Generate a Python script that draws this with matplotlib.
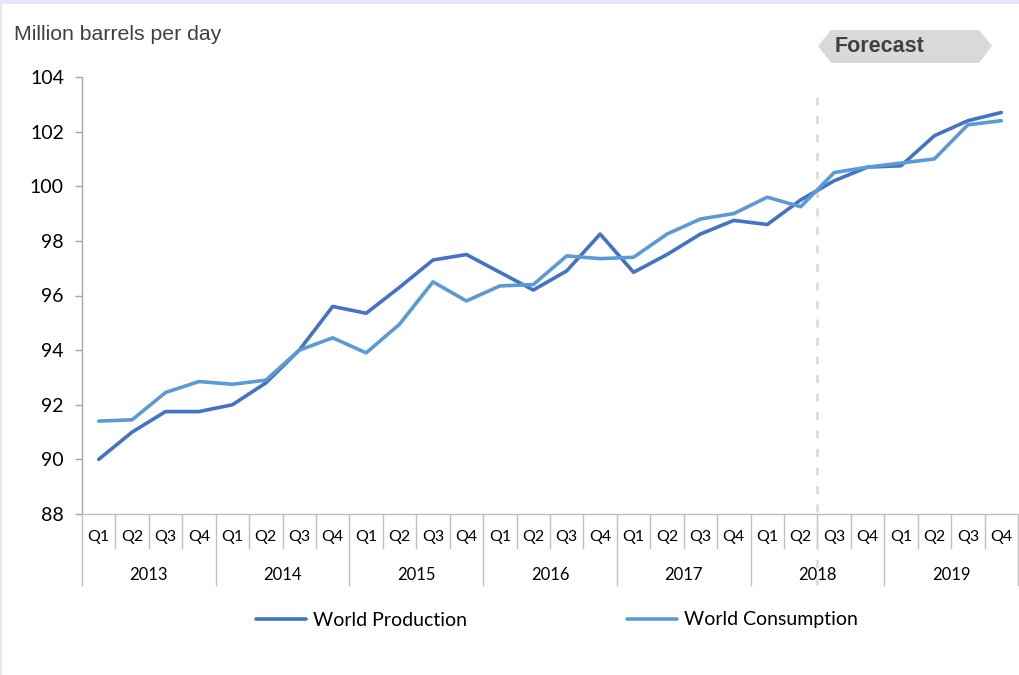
import matplotlib
matplotlib.use("Agg")
import matplotlib.pyplot as plt
from matplotlib.patches import Polygon, Rectangle
from matplotlib.transforms import blended_transform_factory

# Quarterly world oil balance, million barrels per day
years = ["2013", "2014", "2015", "2016", "2017", "2018", "2019"]
quarters = ["Q1", "Q2", "Q3", "Q4"]

production = [90.0, 91.0, 91.75, 91.75,
              92.0, 92.8, 94.0, 95.6,
              95.35, 96.3, 97.3, 97.5,
              96.85, 96.2, 96.9, 98.25,
              96.85, 97.5, 98.25, 98.75,
              98.6, 99.5, 100.2, 100.7,
              100.75, 101.85, 102.4, 102.7]

consumption = [91.4, 91.45, 92.45, 92.85,
               92.75, 92.9, 94.0, 94.45,
               93.9, 94.95, 96.5, 95.8,
               96.35, 96.4, 97.45, 97.35,
               97.4, 98.25, 98.8, 99.0,
               99.6, 99.25, 100.5, 100.7,
               100.85, 101.0, 102.25, 102.4]

y_ticks = [88, 90, 92, 94, 96, 98, 100, 102, 104]
forecast_start = 22  # index of first forecast quarter (2018 Q3)

W, H = 1020, 675
fig = plt.figure(figsize=(W / 100, H / 100), dpi=100)
fig.patch.set_facecolor("white")

# thin frame strips along the top and left edges
fig.patches.append(Rectangle((0, 1 - 4 / H), 1, 4 / H, transform=fig.transFigure,
                             facecolor="#E6E6F7", edgecolor="none", zorder=0))
fig.patches.append(Rectangle((0, 0), 2 / W, 1, transform=fig.transFigure,
                             facecolor="#E6E6F7", edgecolor="none", zorder=0))

left, right, top, bottom = 82, 1018, 77, 514
ax = fig.add_axes([left / W, 1 - bottom / H, (right - left) / W, (bottom - top) / H])

n = len(production)
x = list(range(n))
ax.plot(x, production, color="#4472C4", lw=2.6, solid_capstyle="round",
        solid_joinstyle="round", label="World Production", zorder=3)
ax.plot(x, consumption, color="#5B9BD5", lw=2.6, solid_capstyle="round",
        solid_joinstyle="round", label="World Consumption", zorder=3)

ax.set_xlim(-0.5, n - 0.5)
ax.set_ylim(88, 104)
ax.set_yticks(y_ticks)
ax.set_yticklabels([str(v) for v in y_ticks], fontsize=14, family="Lato", color="black")
ax.tick_params(axis="y", direction="out", length=5, width=1, color="#A6A6A6", pad=8)
ax.set_xticks([])

axis_grey = "#BFBFBF"
for side in ["top", "right"]:
    ax.spines[side].set_visible(False)
ax.spines["left"].set_color("#A6A6A6")
ax.spines["bottom"].set_color(axis_grey)
ax.spines["left"].set_linewidth(1)
ax.spines["bottom"].set_linewidth(1)

# two-level category axis
trans = blended_transform_factory(ax.transData, ax.transAxes)
q_label_y = (bottom - 537) / (bottom - top)
yr_label_y = (bottom - 575) / (bottom - top)
q_sep_bottom = (bottom - 548) / (bottom - top)
yr_sep_bottom = (bottom - 585) / (bottom - top)

for i in range(n):
    ax.text(i, q_label_y, quarters[i % 4], transform=trans, ha="center", va="center",
            fontsize=11.5, family="Lato", color="black")
for b in range(n + 1):
    xb = b - 0.5
    low = yr_sep_bottom if b % 4 == 0 else q_sep_bottom
    ax.plot([xb, xb], [0, low], transform=trans, color=axis_grey, lw=1, clip_on=False)
for k, yr in enumerate(years):
    ax.text(4 * k + 1.5, yr_label_y, yr, transform=trans, ha="center", va="center",
            fontsize=12, family="Lato", color="black")

# forecast divider
xf = forecast_start - 0.5
ax.plot([xf, xf], [(bottom - 97) / (bottom - top), yr_sep_bottom], transform=trans,
        color="#D9D9D9", lw=1.8, dashes=(3.2, 4.2), clip_on=False, zorder=2)

# forecast tag
px = lambda xx, yy: (xx / W, 1 - yy / H)
tag = Polygon([px(818, 46), px(831, 30), px(979, 30), px(992, 46), px(979, 63), px(831, 63)],
              closed=True, transform=fig.transFigure, facecolor="#D9D9D9", edgecolor="none")
fig.patches.append(tag)
fig.text(835 / W, 1 - 47 / H, "Forecast", ha="left", va="center", fontsize=15.5,
         fontweight="bold", family="Liberation Sans", color="#404040")

# unit label
fig.text(14 / W, 1 - 35 / H, "Million barrels per day", ha="left", va="center",
         fontsize=15.3, family="Liberation Sans", color="#404040")

# legend
leg = fig.legend(loc="center", bbox_to_anchor=(557 / W, 1 - 620 / H), ncol=2, frameon=False,
                 prop={"family": "Lato", "size": 14}, handlelength=2.6, handletextpad=0.36,
                 columnspacing=8.2)

fig.savefig("out.png", dpi=100)
